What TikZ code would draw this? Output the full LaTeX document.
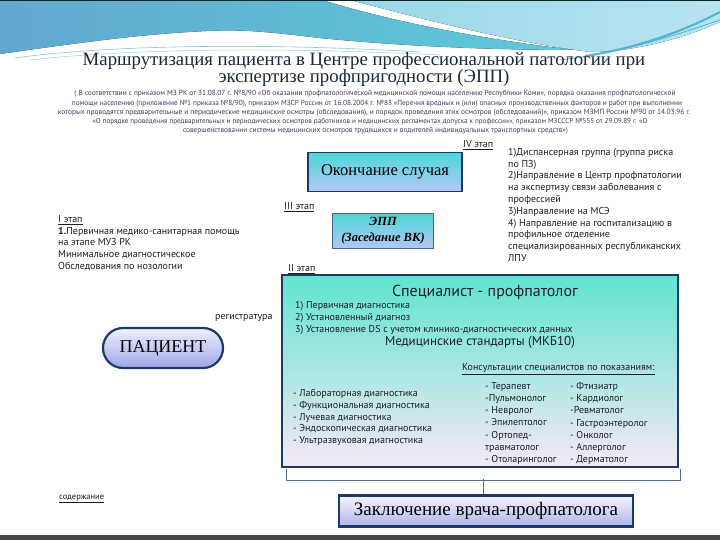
\documentclass[tikz,border=0pt]{standalone}
\usepackage{fontspec}
\setmainfont{Liberation Serif}
\newfontfamily\ptsans{PT Sans}
\usepackage{graphicx}
\usetikzlibrary{shapes.misc}
\definecolor{boxtop}{HTML}{4ED6D8}
\definecolor{boxbot}{HTML}{B4C8F4}
\definecolor{navy}{HTML}{1B3B66}
\definecolor{bigtop}{HTML}{5FE5D0}
\definecolor{bigmid}{HTML}{8EC4F4}
\definecolor{bigbot}{HTML}{F6E8F6}
\definecolor{pattop}{HTML}{EEF0FC}
\definecolor{patbot}{HTML}{A0A6E6}
\definecolor{txtc}{HTML}{1E1E2A}
\definecolor{smallc}{HTML}{3A3F55}
\definecolor{brkc}{HTML}{5B6E88}
\definecolor{wavea}{HTML}{62A8CF}
\definecolor{waveb}{HTML}{5CCAD8}
\definecolor{wavec}{HTML}{9BD6E8}
\definecolor{waved}{HTML}{B6E4F0}
\definecolor{streak}{HTML}{4FB4CC}
\definecolor{titlec}{HTML}{1B2A38}
\begin{document}
\begin{tikzpicture}[x=1pt,y=-1pt,
  stagebox/.style={draw=navy, line width=1.6pt, top color=boxtop, bottom color=boxbot, inner sep=2pt},
  lbl/.style={font=\ptsans\fontsize{10}{11.7}\selectfont, text=txtc, inner sep=0pt, anchor=west},
  blk/.style={font=\ptsans\fontsize{10}{11.8}\selectfont, text=txtc, inner sep=0pt, anchor=north west, align=left},
  smalltxt/.style={font=\ptsans\fontsize{6}{7}\selectfont, text=smallc, inner sep=0pt},
  brk/.style={draw=brkc, line width=0.9pt}]
\useasboundingbox (0,0) rectangle (720,540);
\fill[white] (0,0) rectangle (720,540);
% top decoration
\fill[left color=wavea, right color=waveb] (0,0) -- (322,0) .. controls (380,18) and (470,38) .. (575,50) .. controls (470,50) and (380,44) .. (320,38) .. controls (270,32) and (240,29) .. (207,31) .. controls (140,34) and (70,44) .. (0,54) -- cycle;
\fill[left color=wavec, right color=waved] (350,0) -- (720,0) -- (720,22) .. controls (680,40) and (630,52) .. (590,52) .. controls (500,40) and (420,18) .. (350,0) -- cycle;
\draw[streak, line width=2pt] (585,56) .. controls (640,48) and (690,28) .. (720,12);
\draw[streak, line width=0.8pt] (560,60) .. controls (630,52) and (690,30) .. (720,20);
\draw[streak!70, line width=0.6pt] (15,58) .. controls (100,46) and (250,42) .. (420,52);
\draw[streak!60, line width=0.5pt] (30,60) .. controls (120,50) and (260,46) .. (440,55);
\fill[black!70!teal] (0,0) rectangle (720,1.5);
\fill[black!72] (0,535) rectangle (720,540);
% title
\node[font=\fontsize{18.8}{20}\selectfont, text=titlec, inner sep=0pt] (t1) at (364,61) {Маршрутизация пациента в Центре профессиональной патологии при};
\node[font=\fontsize{18.8}{20}\selectfont, text=titlec, inner sep=0pt] (t2) at (364,78) {экспертизе профпригодности (ЭПП)};
% small paragraph
\node[smalltxt] (s1) at (375,94) {\resizebox{601pt}{!}{( В соответствии с приказом МЗ РК от 31.08.07 г. №8/90 «Об оказании профпатологической медицинской помощи населению Республики Коми», порядка оказания профпатологической}};
\node[smalltxt] (s2) at (377,103.2) {\resizebox{610pt}{!}{помощи населению (приложение №1 приказа №8/90), приказом МЗСР России от 16.08.2004 г. №83 «Перечня вредных и (или) опасных производственных факторов и работ при выполнении}};
\node[smalltxt] (s3) at (374,112.4) {\resizebox{632pt}{!}{которых проводятся предварительные и периодические медицинские осмотры (обследования), и порядок проведения этих осмотров (обследований)», приказом МЗМП России №90 от 14.03.96 г.}};
\node[smalltxt] (s4) at (370,121.6) {\resizebox{555pt}{!}{«О порядке проведения предварительных и периодических осмотров работников и медицинских регламентах допуска к профессии», приказом МЗСССР №555 от 29.09.89 г. «О}};
\node[smalltxt] (s5) at (375.5,130.8) {\resizebox{385pt}{!}{совершенствовании системы медицинских осмотров трудящихся и водителей индивидуальных транспортных средств»)}};
% stage labels
\node[lbl] (iv) at (463,145) {\underline{IV этап}};
\node[lbl] (iii) at (284,207) {\underline{III этап}};
\node[lbl] (ii) at (288,269) {\underline{II этап}};
% right block
\node[blk] (rb) at (508,148) {1)Диспансерная группа (группа риска\\по ПЗ)\\2)Направление в Центр профпатологии\\на экспертизу связи заболевания с\\профессией\\3)Направление на МСЭ\\4) Направление на госпитализацию в\\профильное отделение\\специализированных республиканских\\ЛПУ};
% left block
\node[blk] (lb) at (58,215) {\underline{I этап}\\\textbf{1.}Первичная медико-санитарная помощь\\на этапе МУЗ РК\\Минимальное диагностическое\\Обследования  по нозологии};
% boxes
\node[stagebox, minimum width=154pt, minimum height=39pt, font=\fontsize{16.5}{18}\selectfont] (ok) at (385,172) {Окончание случая};
\node[stagebox, draw=navy!80, line width=1pt, minimum width=101pt, minimum height=35pt, align=center, font=\bfseries\itshape\fontsize{12.5}{16}\selectfont] (epp) at (383,231) {ЭПП\\(Заседание ВК)};
\node[draw=navy, line width=2pt, top color=bigtop, middle color=bigmid, bottom color=bigbot, minimum width=396pt, minimum height=192pt, inner sep=0pt] (spec) at (480,371) {};
\node[rounded rectangle, draw=navy, line width=2.2pt, top color=pattop, bottom color=patbot, minimum width=124pt, minimum height=40pt, inner sep=2pt, font=\fontsize{18}{20}\selectfont] (pat) at (163,348) {ПАЦИЕНТ};
\node[lbl] (reg) at (215,318) {регистратура};
\node[draw=navy, line width=2.2pt, top color=pattop!60!white, bottom color=patbot!85!white, minimum width=294pt, minimum height=31pt, inner sep=2pt, font=\fontsize{19}{21}\selectfont] (zak) at (486,511) {Заключение врача-профпатолога};
\node[lbl, font=\ptsans\fontsize{8.5}{10}\selectfont] (cont) at (59,499) {\underline{содержание}};
% inside big box
\node[font=\ptsans\fontsize{16}{18}\selectfont, text=txtc, inner sep=0pt] (sp) at (485,292) {Специалист - профпатолог};
\node[lbl] (p1) at (295,306) {1) Первичная  диагностика};
\node[lbl] (p2) at (295,318) {2) Установленный диагноз};
\node[lbl] (p3) at (295,330) {3) Установление  DS с учетом клинико-диагностических  данных};
\node[font=\ptsans\fontsize{13}{15}\selectfont, text=txtc, inner sep=0pt] (mkb) at (480,342) {Медицинские стандарты (МКБ10)};
\node[lbl] (kons) at (462,369) {\underline{Консультации специалистов по показаниям:}};
\node[blk] (diag) at (293,389) {- Лабораторная диагностика\\- Функциональная диагностика\\- Лучевая диагностика\\- Эндоскопическая диагностика\\- Ультразвуковая диагностика};
\node[blk, font=\ptsans\fontsize{10}{12.2}\selectfont] (col1) at (485,382) {- Терапевт\\-Пульмонолог\\- Невролог\\- Эпилептолог\\- Ортопед-\\травматолог\\- Отоларинголог};
\node[blk, font=\ptsans\fontsize{10}{12.2}\selectfont] (col2) at (570,382) {- Фтизиатр\\- Кардиолог\\-Ревматолог\\- Гастроэнтеролог\\- Онколог\\- Аллерголог\\- Дерматолог};
% bracket and connector
\draw[brk] ([xshift=5pt,yshift=-1pt]spec.south west) -- ++(0,11) -| ([xshift=1pt,yshift=-1pt]spec.south east);
\coordinate (tk) at (483,479);
\draw[brk] (tk) -- (tk |- zak.north);
\end{tikzpicture}
\end{document}
